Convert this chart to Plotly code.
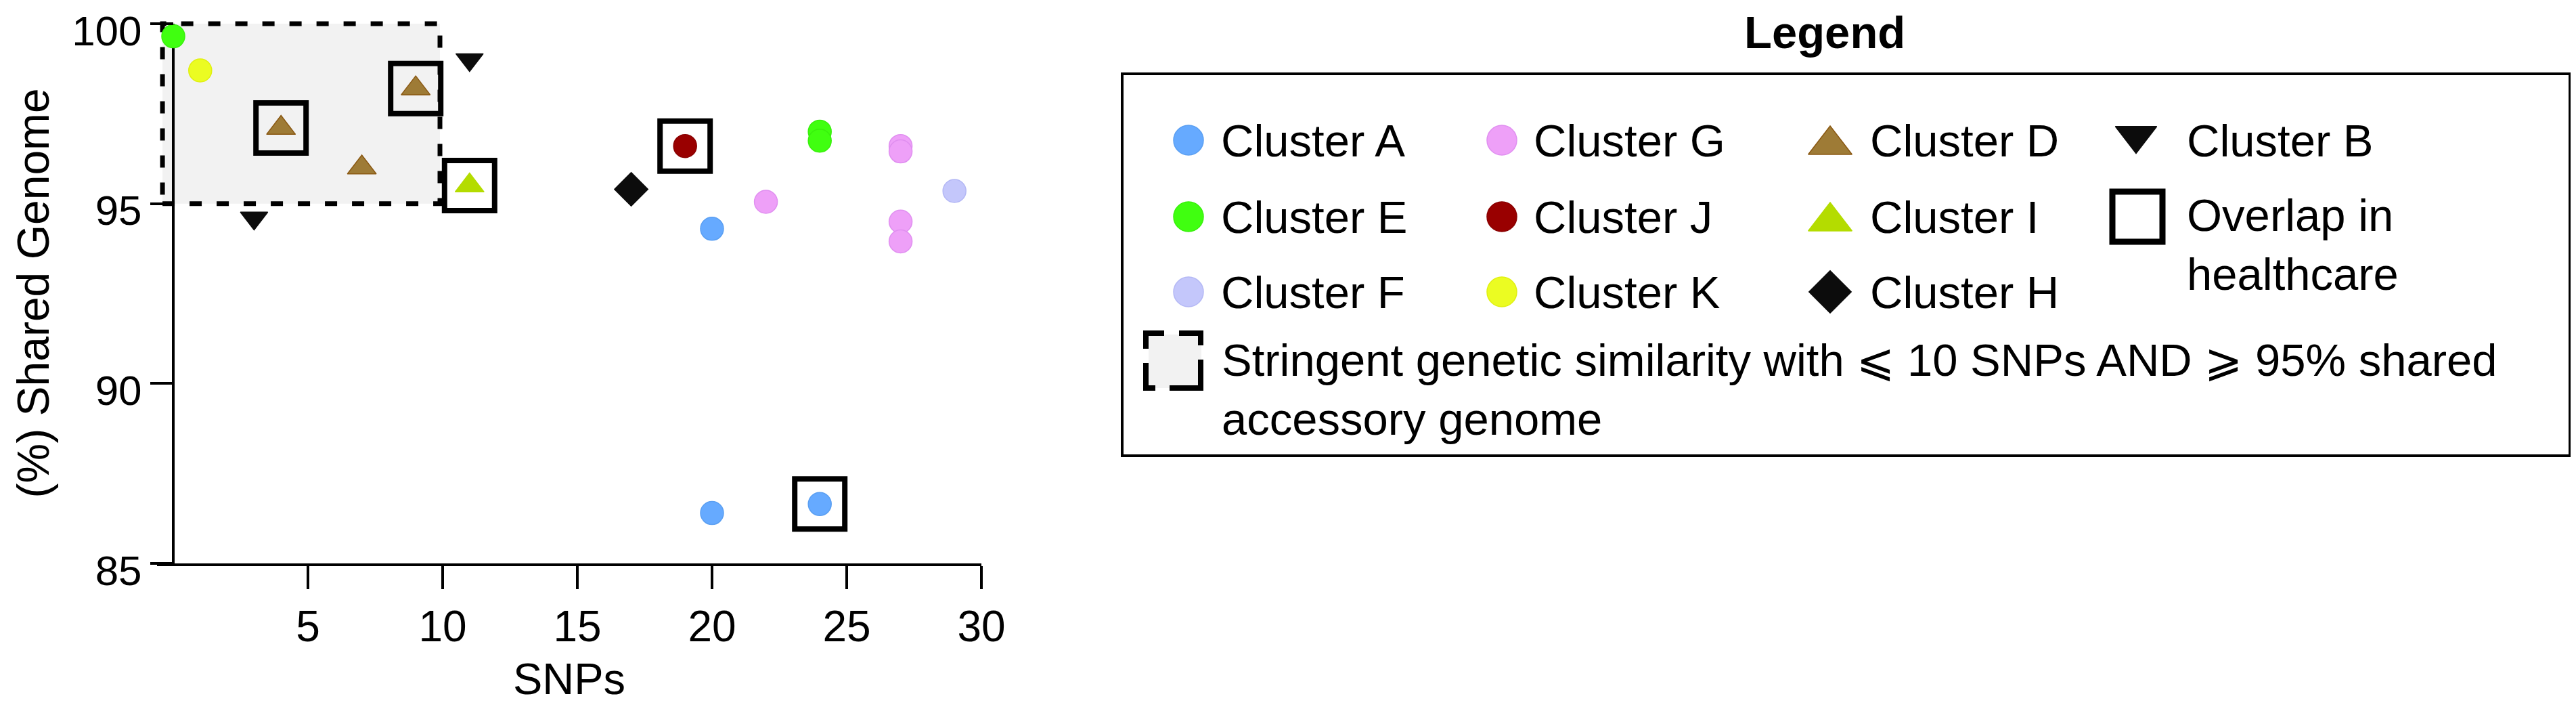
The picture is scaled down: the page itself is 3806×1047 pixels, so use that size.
import plotly.graph_objects as go

W, H = 3806, 1047          # browser window / reference size
OFF = 8                    # default page (body) margin around the plot div
FW, FH = W - OFF, H - 2 * OFF   # figure size so the page does not overflow

# ---------------- data ----------------
cluster_a_x = [20, 20, 24]
cluster_a_y = [94.3, 86.4, 86.65]
cluster_e_x = [0, 24, 24]
cluster_e_y = [99.65, 97.0, 96.75]
cluster_f_x = [29]
cluster_f_y = [95.35]
cluster_g_x = [22, 27, 27, 27, 27]
cluster_g_y = [95.05, 96.6, 96.45, 94.5, 93.95]
cluster_j_x = [19]
cluster_j_y = [96.6]
cluster_k_x = [1]
cluster_k_y = [98.7]
cluster_d_x = [4, 7, 9]
cluster_d_y = [97.1, 96.0, 98.2]
cluster_i_x = [11]
cluster_i_y = [95.5]
cluster_h_x = [17]
cluster_h_y = [95.4]
cluster_b_x = [3, 11]
cluster_b_y = [94.6, 99.0]
overlap_x = [4, 9, 11, 19, 24]
overlap_y = [97.1, 98.2, 95.5, 96.6, 86.65]

stringent_snps = [0, 10]
stringent_share = [95, 100]

x_ticks = [5, 10, 15, 20, 25, 30]
y_ticks = [85, 90, 95, 100]

FONT = "Liberation Sans, Arial, Helvetica, sans-serif"
LFS = 67  # legend font size

# ---------------- styles ----------------
styles = {
    "Cluster A": dict(symbol="circle", color="#66aaff", line="#5a9ff2"),
    "Cluster E": dict(symbol="circle", color="#40ff10", line="#38f00c"),
    "Cluster F": dict(symbol="circle", color="#c4c7fb", line="#b4b8f5"),
    "Cluster G": dict(symbol="circle", color="#eea0f8", line="#e08ff0"),
    "Cluster J": dict(symbol="circle", color="#990000", line="#8a0000"),
    "Cluster K": dict(symbol="circle", color="#ebfc22", line="#e0f010"),
    "Cluster D": dict(symbol="triangle-up", color="#9e7b36", line="#8a5812"),
    "Cluster I": dict(symbol="triangle-up", color="#b4dc00", line="#b4dc00"),
    "Cluster H": dict(symbol="diamond", color="#0c0c0c", line="#0c0c0c"),
    "Cluster B": dict(symbol="triangle-down", color="#0c0c0c", line="#0c0c0c"),
}
plot_size = {"circle": 34, "triangle-up": 37, "diamond": 38, "triangle-down": 35}
legend_size = {"circle": 44, "triangle-up": 56, "diamond": 48, "triangle-down": 53}

series = [
    ("Cluster A", cluster_a_x, cluster_a_y),
    ("Cluster E", cluster_e_x, cluster_e_y),
    ("Cluster F", cluster_f_x, cluster_f_y),
    ("Cluster G", cluster_g_x, cluster_g_y),
    ("Cluster J", cluster_j_x, cluster_j_y),
    ("Cluster K", cluster_k_x, cluster_k_y),
    ("Cluster D", cluster_d_x, cluster_d_y),
    ("Cluster I", cluster_i_x, cluster_i_y),
    ("Cluster H", cluster_h_x, cluster_h_y),
    ("Cluster B", cluster_b_x, cluster_b_y),
]

fig = go.Figure()

for name, xs, ys in series:
    st = styles[name]
    fig.add_trace(go.Scatter(
        x=xs, y=ys, mode="markers", name=name, showlegend=False,
        cliponaxis=False,
        marker=dict(symbol=st["symbol"], size=plot_size[st["symbol"]],
                    color=st["color"], line=dict(color=st["line"], width=1.5)),
        xaxis="x", yaxis="y",
    ))

fig.add_trace(go.Scatter(
    x=overlap_x, y=overlap_y, mode="markers", name="Overlap in healthcare",
    showlegend=False, cliponaxis=False,
    marker=dict(symbol="square-open", size=74, color="black",
                line=dict(color="black", width=8)),
    xaxis="x", yaxis="y",
))

# ---------------- main axes geometry (page pixels) ----------------
X0PX, X30PX = 256, 1450
Y85PX, Y100PX = 832, 35
xr = [-0.6, 30]
pxu_x = (X30PX - X0PX) / 30.0
xdom = [(X0PX - OFF + xr[0] * pxu_x) / FW, (X30PX - OFF) / FW]
yr = [85, 100.15]
pxu_y = (Y85PX - Y100PX) / 15.0
ytop = Y100PX - (yr[1] - 100) * pxu_y
ydom = [1 - (Y85PX - OFF) / FH, 1 - (ytop - OFF) / FH]

shapes = []
# stringent region
shapes.append(dict(type="rect", xref="x", yref="y",
                   x0=-0.4, x1=9.9, y0=stringent_share[0], y1=stringent_share[1],
                   fillcolor="#f2f2f2", layer="below",
                   line=dict(color="black", width=7, dash="18px,22px")))
# y axis line (x = 0)
shapes.append(dict(type="line", xref="x", yref="y", x0=0, x1=0, y0=85, y1=100,
                   layer="below", line=dict(color="black", width=4)))

annotations = []
# y-axis title
annotations.append(dict(xref="x2", yref="y2", x=48, y=(Y85PX + Y100PX) / 2,
                        text="(%) Shared Genome", textangle=-90,
                        showarrow=False, xanchor="center", yanchor="middle",
                        font=dict(family=FONT, size=66, color="black")))

# ---------------- legend (helper axis in page pixels) ----------------
LX = dict(c1=1756, c2=2219, c3=2704, c4=3156)
TX = dict(c1=1802, c2=2264, c3=2761, c4=3229)
ROWS = [207, 320, 431]

legend_layout = [
    ("Cluster A", "c1", 0), ("Cluster E", "c1", 1), ("Cluster F", "c1", 2),
    ("Cluster G", "c2", 0), ("Cluster J", "c2", 1), ("Cluster K", "c2", 2),
    ("Cluster D", "c3", 0), ("Cluster I", "c3", 1), ("Cluster H", "c3", 2),
    ("Cluster B", "c4", 0),
]

for name, col, row in legend_layout:
    st = styles[name]
    sym = st["symbol"]
    yoff = 7 if sym == "triangle-up" else (-7 if sym == "triangle-down" else 0)
    fig.add_trace(go.Scatter(
        x=[LX[col]], y=[ROWS[row] + yoff], mode="markers", showlegend=False,
        cliponaxis=False, hoverinfo="skip",
        marker=dict(symbol=sym, size=legend_size[sym], color=st["color"],
                    line=dict(color=st["line"], width=1.5)),
        xaxis="x2", yaxis="y2",
    ))
    annotations.append(dict(xref="x2", yref="y2", x=TX[col], y=ROWS[row],
                            text=name, showarrow=False, xanchor="left",
                            yanchor="middle",
                            font=dict(family=FONT, size=LFS, color="black")))

# overlap legend swatch
fig.add_trace(go.Scatter(
    x=[3158], y=[320], mode="markers", showlegend=False, cliponaxis=False,
    hoverinfo="skip",
    marker=dict(symbol="square-open", size=74, color="black",
                line=dict(color="black", width=9)),
    xaxis="x2", yaxis="y2",
))
annotations.append(dict(xref="x2", yref="y2", x=TX["c4"], y=361,
                        text="Overlap in<br>healthcare", showarrow=False,
                        xanchor="left", yanchor="middle", align="left",
                        font=dict(family=FONT, size=LFS, color="black")))

# stringent legend swatch
shapes.append(dict(type="rect", xref="x2", yref="y2", x0=1697, x1=1775,
                   y0=494, y1=573, fillcolor="#f2f2f2", line=dict(width=0),
                   layer="below"))
shapes.append(dict(type="path", xref="x2", yref="y2",
                   path="M1693,515 V492 H1720 M1742,492 H1774 V510 "
                        "M1774,531 V573 H1728 M1707,573 H1693 V536",
                   line=dict(color="black", width=8)))
annotations.append(dict(xref="x2", yref="y2", x=1803, y=575,
                        text="Stringent genetic similarity with \u2A7D 10 SNPs AND "
                             "\u2A7E 95% shared<br>accessory genome",
                        showarrow=False, xanchor="left", yanchor="middle",
                        align="left",
                        font=dict(family=FONT, size=LFS, color="black")))

# legend frame
shapes.append(dict(type="rect", xref="x2", yref="y2", x0=1658, x1=3797,
                   y0=109, y1=673, line=dict(color="black", width=4)))

# legend title
annotations.append(dict(xref="x2", yref="y2", x=2696, y=47,
                        text="<b>Legend</b>", showarrow=False,
                        xanchor="center", yanchor="middle",
                        font=dict(family=FONT, size=LFS, color="black")))

fig.update_layout(
    width=FW, height=FH, autosize=False,
    margin=dict(l=0, r=0, t=0, b=0, pad=0, autoexpand=False),
    paper_bgcolor="white", plot_bgcolor="rgba(0,0,0,0)",
    showlegend=False,
    font=dict(family=FONT, color="black"),
    xaxis=dict(domain=xdom, range=xr, anchor="y", showgrid=False,
               zeroline=False, showline=True, linecolor="black", linewidth=4,
               ticks="outside", ticklen=34, tickwidth=4, tickcolor="black",
               tickvals=x_ticks, tickfont=dict(size=64, family=FONT),
               automargin=False, ticklabeloverflow="allow",
               title=dict(text="SNPs", font=dict(size=65, family=FONT),
                          standoff=24)),
    yaxis=dict(domain=ydom, range=yr, anchor="free", position=(X0PX - OFF) / FW,
               showgrid=False, zeroline=False, showline=False,
               ticks="outside", ticklen=34, tickwidth=4, tickcolor="black",
               tickvals=y_ticks, tickfont=dict(size=62, family=FONT),
               ticklabelshift=10,
               automargin=False, ticklabeloverflow="allow"),
    xaxis2=dict(domain=[0, 1], range=[OFF, OFF + FW], anchor="y2",
                visible=False, fixedrange=True, automargin=False),
    yaxis2=dict(domain=[0, 1], range=[OFF + FH, OFF], anchor="x2",
                visible=False, fixedrange=True, automargin=False),
    shapes=shapes,
    annotations=annotations,
)

fig.write_html("out.html")
